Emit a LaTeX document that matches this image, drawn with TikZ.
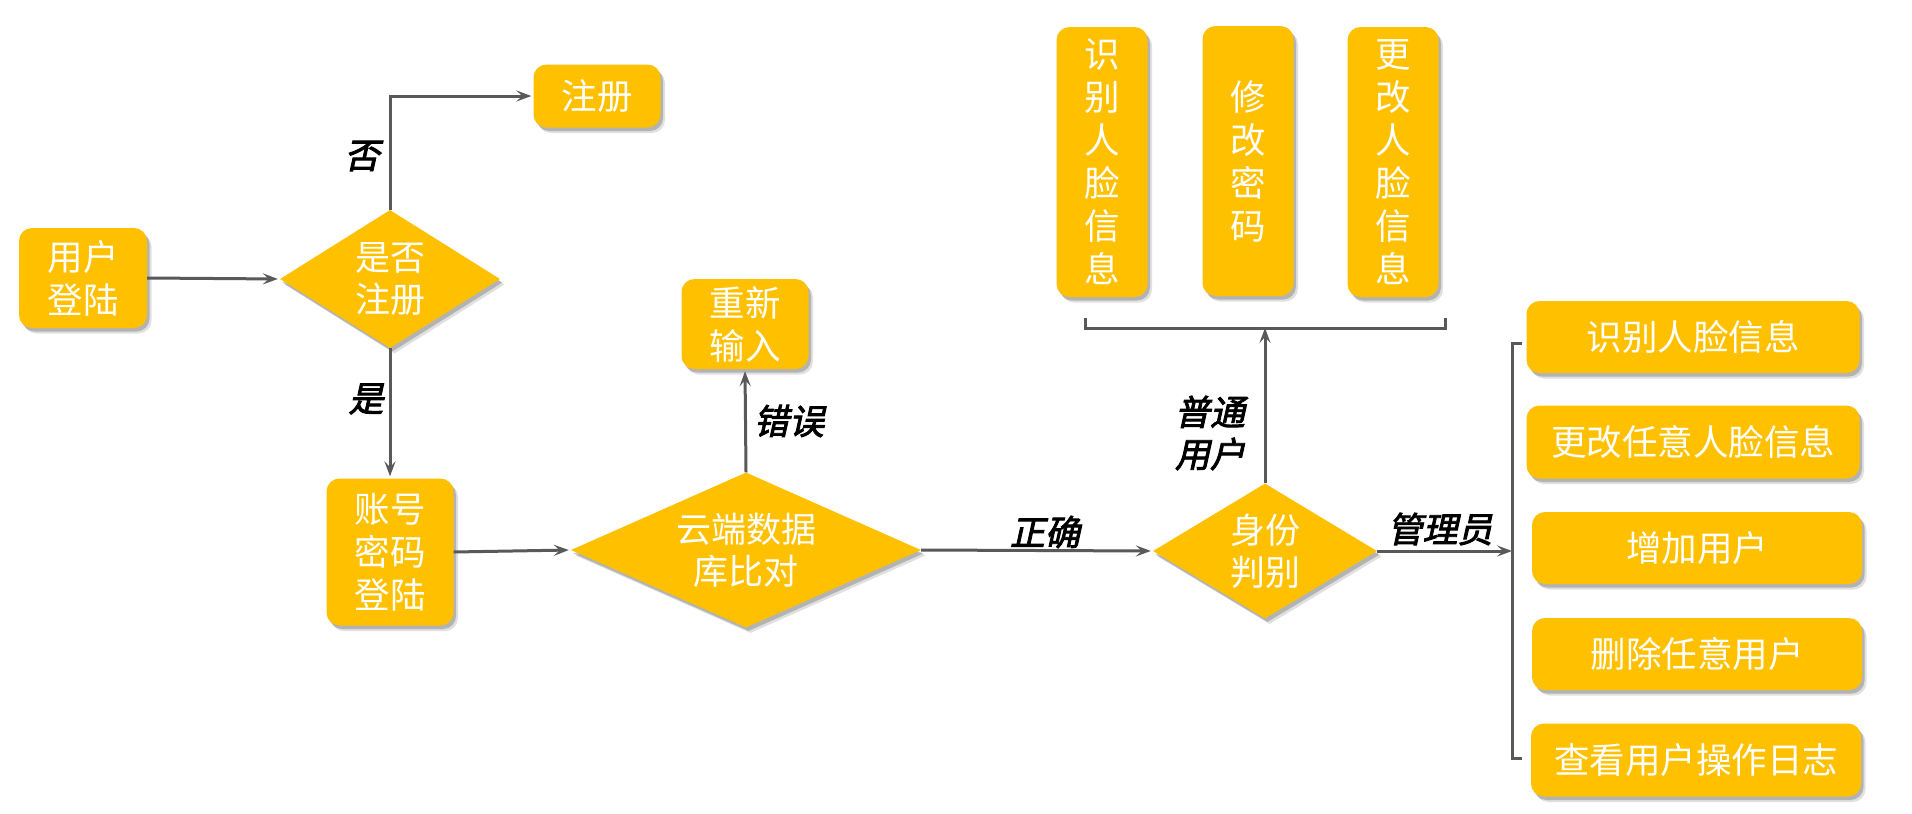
\documentclass[tikz,border=0pt]{standalone}
\usepackage{fontspec}
\setmainfont{Noto Sans CJK SC}
\newfontfamily\labfont[FakeSlant=0.22,FakeBold=2.5]{Noto Sans CJK SC}
\usetikzlibrary{shapes.geometric,shadows,arrows.meta}
\definecolor{gold}{HTML}{FFC000}
\definecolor{lgray}{HTML}{595959}
\begin{document}
\begin{tikzpicture}[x=1pt,y=-1pt,
  shad/.style={drop shadow={shadow xshift=4.5pt,shadow yshift=-5.5pt,opacity=0.12,fill=black},
               drop shadow={shadow xshift=2.5pt,shadow yshift=-3.5pt,opacity=0.2,fill=black}},
  box/.style={shad,fill=gold,rounded corners=13pt,text=white,
    font=\fontsize{35.5}{43}\selectfont,align=center,inner sep=0pt},
  dia/.style={shad,diamond,fill=gold,text=white,
    font=\fontsize{35}{42}\selectfont,align=center,inner sep=0pt},
  arr/.style={draw=lgray,line width=3pt,shorten >=2pt,
    -{Stealth[length=15pt,width=11pt,inset=6pt]}},
  ln/.style={draw=lgray,line width=3pt},
  lab/.style={font=\labfont\fontsize{35}{42}\selectfont,text=black,align=center,inner sep=0pt}]
\fill[white] (0,0) rectangle (1912,814);
\useasboundingbox (0,0) rectangle (1912,814);

% left part
\node[box,minimum width=128pt,minimum height=100pt] (login) at (83,278) {用户\\登陆};
\node[dia,minimum width=220pt,minimum height=138pt,aspect=1.6] (reg) at (390,279) {是否\\注册};
\node[box,minimum width=127pt,minimum height=63pt] (zhuce) at (597,96) {注册};
\node[box,minimum width=127pt,minimum height=147pt] (acct) at (390,552) {账号\\密码\\登陆};
\node[dia,minimum width=350pt,minimum height=155pt,aspect=2.25] (cloud) at (746,550) {云端数据\\库比对};
\node[box,minimum width=127pt,minimum height=90pt] (retry) at (745,324) {重新\\输入};
\node[dia,minimum width=224pt,minimum height=135pt,aspect=1.65] (ident) at (1265,551) {身份\\判别};

% top boxes (normal user)
\node[box,minimum width=91pt,minimum height=270pt] (u1) at (1102,162) {识\\别\\人\\脸\\信\\息};
\node[box,minimum width=91pt,minimum height=270pt] (u2) at (1248,161) {修\\改\\密\\码};
\node[box,minimum width=91pt,minimum height=270pt] (u3) at (1393,162) {更\\改\\人\\脸\\信\\息};

% admin boxes
\node[box,minimum width=333pt,minimum height=72pt] (a1) at (1693,337) {识别人脸信息};
\node[box,minimum width=333pt,minimum height=73pt] (a2) at (1693,442) {更改任意人脸信息};
\node[box,minimum width=330pt,minimum height=72pt] (a3) at (1697,548) {增加用户};
\node[box,minimum width=330pt,minimum height=72pt] (a4) at (1697,654) {删除任意用户};
\node[box,minimum width=330pt,minimum height=73pt] (a5) at (1696,760) {查看用户操作日志};

% brackets
\coordinate (bk1) at (1265,328);
\coordinate (t1) at (1085,318);
\coordinate (t1b) at (1085,328);
\coordinate (t2b) at (1445,328);
\coordinate (t2) at (1445,318);
\draw[ln] (t1) -- (t1b) -- (t2b) -- (t2);

\coordinate (bk2) at (1512,551);
\coordinate (s1) at (1522,343);
\coordinate (s1b) at (1512,343);
\coordinate (s2b) at (1512,758);
\coordinate (s2) at (1522,758);
\draw[ln] (s1) -- (s1b) -- (s2b) -- (s2);

% connectors
\draw[arr] (login.east) -- (reg.west);
\draw[arr] (reg.north) |- (zhuce.west);
\draw[arr] (reg.south) -- (acct.north);
\draw[arr] (acct.east) -- (cloud.west);
\draw[arr] (cloud.north) -- (retry.south);
\draw[arr] (cloud.east) -- (ident.west);
\draw[arr,shorten >=0pt] (ident.north) -- (bk1);
\draw[arr,shorten >=0pt] (ident.east) -- (bk2);

% labels
\node[lab] (lno) at (362,156) {否};
\node[lab] (lyes) at (366,399) {是};
\node[lab] (lerr) at (789,421) {错误};
\node[lab] (lok) at (1045,532) {正确};
\node[lab] (lnorm) at (1210,433) {普通\\用户};
\node[lab] (ladm) at (1440,529) {管理员};
\end{tikzpicture}
\end{document}
